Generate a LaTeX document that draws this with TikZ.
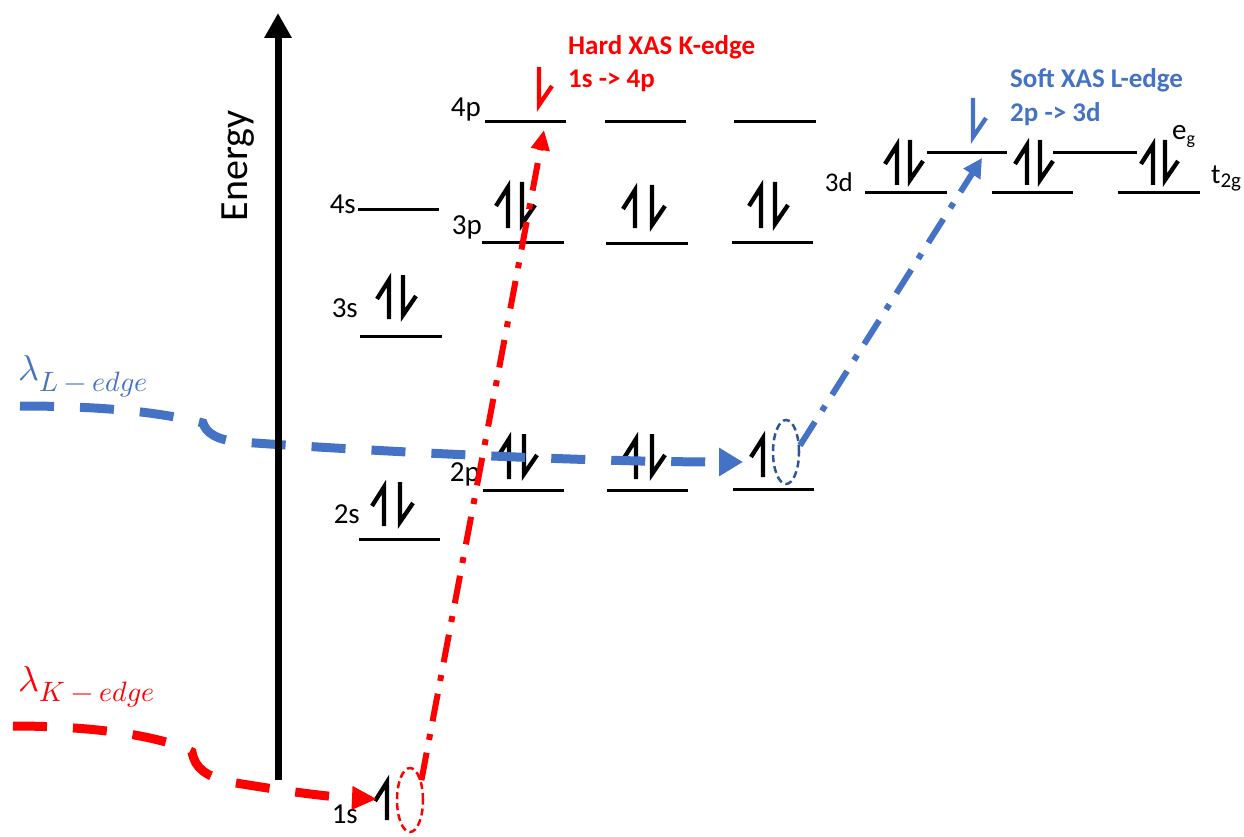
\documentclass[tikz,border=0pt]{standalone}
\usepackage{fontspec}
\setmainfont{Carlito}
\usepackage{unicode-math}
\setmathfont{Latin Modern Math}
\usetikzlibrary{arrows.meta,shapes.geometric}
\definecolor{xred}{HTML}{FF0000}
\definecolor{xblue}{HTML}{4472C4}
\definecolor{xdblue}{HTML}{2F5597}
\newcommand{\spinup}[4][black]{\draw[spin,#1] (#2,#4) -- (#2,#3+5) -- ++(-12,19);}
\newcommand{\spindn}[4][black]{\draw[spin,#1] (#2,#3) -- (#2,#4-5) -- ++(13,-19);}
\begin{document}
\begin{tikzpicture}[x=1pt,y=-1pt,
  level/.style={line width=3pt},
  spin/.style={line width=4.3pt, line join=miter, line cap=butt},
  lbl/.style={font=\fontsize{29}{32}\selectfont, inner sep=0pt, anchor=base east},
  wave/.style={line width=9pt, dash pattern=on 34pt off 26pt},
  trans/.style={line width=6pt, dash pattern=on 28pt off 13pt on 6pt off 13pt},
  hole/.style={ellipse, draw, line width=2.5pt, dash pattern=on 7pt off 4pt, minimum width=26pt, minimum height=64pt, inner sep=0pt},
  title/.style={anchor=base west, inner sep=0pt, font=\bfseries\fontsize{27}{30}\selectfont}
]
\useasboundingbox (0,0) rectangle (1244,837);

% levels
\draw[level] (358,209) -- (439,209);
\draw[level] (360,336) -- (442,336);
\draw[level] (359,539) -- (440,539);
\draw[level] (485,122) -- (566,122);
\draw[level] (605,122) -- (686,122);
\draw[level] (734,122) -- (816,122);
\draw[level] (482,242) -- (564,242);
\draw[level] (606,243) -- (688,243);
\draw[level] (732,242) -- (813,242);
\draw[level] (483,490) -- (564,490);
\draw[level] (607,490) -- (688,490);
\draw[level] (733,489) -- (814,489);
\draw[level] (865,193) -- (947,193);
\draw[level] (992,193) -- (1073,193);
\draw[level] (1118,193) -- (1200,193);
\draw[level] (927,153) -- (1007,153);
\draw[level] (1053,153) -- (1137,153);

% level labels
\node[lbl] (l4p) at (481,117) {4p};
\node[lbl] (l4s) at (356,213) {4s};
\node[lbl] (l3p) at (482,234) {3p};
\node[lbl] (l3s) at (358,317) {3s};
\node[lbl] (l2s) at (360,523) {2s};
\node[lbl] (l2p) at (480,481) {2p};
\node[lbl] (l1s) at (358,823) {1s};
\node[lbl, font=\fontsize{27}{30}\selectfont] (l3d) at (853,192) {3d};
\node[anchor=base west, inner sep=0pt, font=\fontsize{29}{30}\selectfont] (leg) at (1172,140) {e\raisebox{-5pt}{\fontsize{18}{18}\selectfont g}};
\node[anchor=base west, inner sep=0pt, font=\fontsize{28}{30}\selectfont] (lt2g) at (1211,183) {t\raisebox{-5pt}{\fontsize{21}{21}\selectfont 2g}};

% electrons
\spinup{389}{275}{319}\spindn{403}{275}{320}
\spinup{384}{482}{526}\spindn{400}{482}{527}
\spinup{508}{182}{228}\spindn{522}{182}{229}
\spinup{635}{185}{228}\spindn{652}{185}{230}
\spinup{761}{182}{228}\spindn{775}{182}{229}
\spinup{509}{434}{479}\spindn{524}{434}{479}
\spinup{636}{434}{479}\spindn{652}{434}{479}
\spinup{763}{433}{477}
\spinup{897}{140}{185}\spindn{910}{140}{185}
\spinup{1027}{140}{185}\spindn{1040}{140}{185}
\spinup{1153}{140}{185}\spindn{1165}{140}{185}
\spinup{387}{777}{820}
\spindn[xred]{539}{67}{110}
\spindn[xblue]{973}{98}{142}

% photon paths
\coordinate (Lstart) at (20,406);
\coordinate (Lend) at (743,462);
\coordinate (Kstart) at (13,726);
\coordinate (Kend) at (377,799);
\draw[wave, xblue, -{Triangle[length=24pt,width=27pt]}] (Lstart) .. controls (100,406) and (160,412) .. (203,423) .. controls (206,432) and (215,440) .. (240,442) .. controls (400,453) and (600,462) .. (Lend);
\draw[wave, xred, -{Triangle[length=25pt,width=22pt]}] (Kstart) .. controls (90,726) and (160,735) .. (192,752) .. controls (195,768) and (205,776) .. (230,782) .. controls (290,792) and (330,797) .. (Kend);

% core holes
\node[hole, draw=xred] (holeK) at (410,800) {};
\node[hole, draw=xdblue] (holeL) at (786,452) {};

% transitions
\coordinate (ktip) at (544,130);
\coordinate (ltip) at (982,158);
\draw[trans, xred, -{Triangle[length=20pt,width=18pt]}] (holeK.60) -- (ktip);
\draw[trans, xblue, -{Triangle[length=19pt,width=19pt]}] (holeL.25) -- (ltip);

% energy axis
\coordinate (ebot) at (278,780);
\coordinate (etop) at (278,13);
\draw[line width=7pt, -{Triangle[length=25pt,width=26pt]}] (ebot) -- (etop);
\node[rotate=90, anchor=base, inner sep=0pt, font=\fontsize{40}{44}\selectfont] (energy) at (247,166) {Energy};

% titles
\node[title, text=xred] (hard1) at (568,55) {Hard XAS K-edge};
\node[title, text=xred] (hard2) at (568,88) {1s -> 4p};
\node[title, text=xblue] (soft1) at (1010,88) {Soft XAS L-edge};
\node[title, text=xblue] (soft2) at (1010,122) {2p -> 3d};

% wavelength labels
\node[anchor=base west, inner sep=0pt, text=xblue] (lamL) at (18,380) {\fontsize{36}{36}\selectfont$\lambda$\raisebox{-11pt}{\fontsize{28}{28}\selectfont$L-edge$}};
\node[anchor=base west, inner sep=0pt, text=xred] (lamK) at (18,691) {\fontsize{36}{36}\selectfont$\lambda$\raisebox{-10pt}{\fontsize{28}{28}\selectfont$K-edge$}};
\end{tikzpicture}
\end{document}
